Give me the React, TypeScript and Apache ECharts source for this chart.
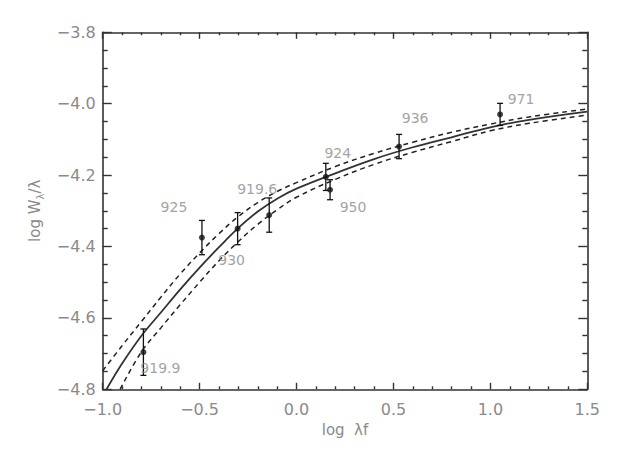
import React, { useEffect, useRef } from 'react';
import * as echarts from 'echarts';

// Measured lines (log λf, log Wλ/λ, 1σ error)
const lineNames = ['919.9', '925', '930', '919.6', '924', '950', '936', '971'];
const logLambdaF = [-0.79, -0.488, -0.304, -0.141, 0.151, 0.173, 0.529, 1.05];
const logW = [-4.696, -4.375, -4.35, -4.312, -4.205, -4.241, -4.12, -4.03];
const errW = [0.065, 0.048, 0.045, 0.048, 0.038, 0.028, 0.034, 0.031];

// Curve of growth (best fit)
const fitX = [-0.98, -0.9, -0.8, -0.7, -0.6, -0.5, -0.4, -0.3, -0.2, -0.1, 0.0, 0.2, 0.4, 0.6, 0.8, 1.0, 1.2, 1.5];
const fitY = [-4.8, -4.728, -4.65, -4.585, -4.52, -4.459, -4.402, -4.348, -4.302, -4.266, -4.238, -4.195, -4.155, -4.122, -4.094, -4.066, -4.045, -4.022];

// Upper bound curve
const upperX = [-1.0, -0.9, -0.8, -0.7, -0.6, -0.5, -0.4, -0.3, -0.2, -0.1, 0.0, 0.2, 0.4, 0.6, 0.8, 1.0, 1.2, 1.5];
const upperY = [-4.748, -4.678, -4.61, -4.542, -4.477, -4.418, -4.364, -4.316, -4.277, -4.246, -4.221, -4.176, -4.139, -4.108, -4.08, -4.057, -4.037, -4.015];

// Lower bound curve
const lowerX = [-0.91, -0.8, -0.7, -0.6, -0.5, -0.4, -0.3, -0.2, -0.1, 0.0, 0.2, 0.4, 0.6, 0.8, 1.0, 1.2, 1.5];
const lowerY = [-4.8, -4.695, -4.628, -4.563, -4.5, -4.44, -4.386, -4.338, -4.297, -4.262, -4.212, -4.17, -4.136, -4.106, -4.076, -4.055, -4.032];

// Label offsets in pixels (style, not data)
const labelOffsets: [number, number][] = [
  [17, 16], [-28, -31], [-6, 31], [-12, -26], [12, -24], [23, 17], [16, -29], [21, -15],
];

const FONT = 'DejaVu Sans';
const TEXT_GRAY = '#8a8a8a';
const AXIS_DARK = '#333333';

const fmt = (v: number) => {
  const s = Math.abs(v) < 1e-9 ? '0.0' : v.toFixed(1);
  return s.replace('-', '\u2212');
};

export default function App() {
  const ref = useRef<HTMLDivElement>(null);
  useEffect(() => {
    if (!ref.current) return;
    const chart = echarts.init(ref.current, undefined, { renderer: 'svg' });

    const axisLine = { show: true, onZero: false, lineStyle: { color: AXIS_DARK, width: 1.6 } };
    const xCommon = {
      type: 'value' as const,
      min: -1.0,
      max: 1.5,
      interval: 0.5,
      axisLine,
      axisTick: { show: true, inside: true, length: 6.5, lineStyle: { color: AXIS_DARK, width: 1.4 } },
      minorTick: { show: true, splitNumber: 5, length: 3, lineStyle: { color: AXIS_DARK, width: 1.4 } },
      splitLine: { show: false },
      minorSplitLine: { show: false },
    };
    const yCommon = {
      type: 'value' as const,
      min: -4.8,
      max: -3.8,
      interval: 0.2,
      axisLine,
      axisTick: { show: true, inside: true, length: 9, lineStyle: { color: AXIS_DARK, width: 1.4 } },
      minorTick: { show: true, splitNumber: 4, length: 5, lineStyle: { color: AXIS_DARK, width: 1.4 } },
      splitLine: { show: false },
      minorSplitLine: { show: false },
    };

    const errData = logLambdaF.map((x, i) => [x, logW[i] - errW[i], logW[i] + errW[i]]);
    const pointData = logLambdaF.map((x, i) => [x, logW[i]]);
    const labelData = logLambdaF.map((x, i) => ({
      value: [x, logW[i]],
      name: lineNames[i],
      label: { offset: labelOffsets[i] },
    }));

    chart.setOption({
      animation: false,
      backgroundColor: '#ffffff',
      grid: { left: 102.7, right: 30.7, top: 32.3, bottom: 65.7, containLabel: false },
      xAxis: [
        {
          ...xCommon,
          position: 'bottom',
          name: 'log  \u03bbf',
          nameLocation: 'middle',
          nameGap: 33,
          nameTextStyle: { fontFamily: FONT, fontSize: 15, color: TEXT_GRAY },
          axisLabel: { show: true, margin: 12, fontFamily: FONT, fontSize: 16, color: TEXT_GRAY, formatter: fmt },
        },
        { ...xCommon, position: 'top', axisLabel: { show: false } },
      ],
      yAxis: [
        {
          ...yCommon,
          position: 'left',
          name: '{a|log W}{s|\u03bb}{a|/\u03bb}',
          nameLocation: 'middle',
          nameGap: 55,
          nameRotate: 90,
          nameTextStyle: {
            fontFamily: FONT,
            color: TEXT_GRAY,
            rich: {
              a: { fontFamily: FONT, fontSize: 15, color: TEXT_GRAY, lineHeight: 22, verticalAlign: 'middle' },
              s: { fontFamily: FONT, fontSize: 10, color: TEXT_GRAY, lineHeight: 12, verticalAlign: 'bottom' },
            },
          },
          axisLabel: { show: true, margin: 7, fontFamily: FONT, fontSize: 16, color: TEXT_GRAY, formatter: fmt },
        },
        { ...yCommon, position: 'right', axisLabel: { show: false } },
      ],
      series: [
        {
          type: 'line',
          data: fitX.map((x, i) => [x, fitY[i]]),
          smooth: 0.4,
          symbol: 'none',
          lineStyle: { color: '#333333', width: 1.8 },
          z: 3,
        },
        {
          type: 'line',
          data: upperX.map((x, i) => [x, upperY[i]]),
          smooth: 0.4,
          symbol: 'none',
          lineStyle: { color: '#222222', width: 1.5, type: [5, 4] },
          z: 3,
        },
        {
          type: 'line',
          data: lowerX.map((x, i) => [x, lowerY[i]]),
          smooth: 0.4,
          symbol: 'none',
          lineStyle: { color: '#222222', width: 1.5, type: [5, 4] },
          z: 3,
        },
        {
          type: 'custom',
          data: errData,
          z: 4,
          renderItem: (params: any, api: any) => {
            const x = api.value(0);
            const lo = api.coord([x, api.value(1)]);
            const hi = api.coord([x, api.value(2)]);
            const w = 3;
            const style = { stroke: '#111111', lineWidth: 1.3 };
            return {
              type: 'group',
              children: [
                { type: 'line', shape: { x1: lo[0], y1: lo[1], x2: hi[0], y2: hi[1] }, style },
                { type: 'line', shape: { x1: lo[0] - w, y1: lo[1], x2: lo[0] + w, y2: lo[1] }, style },
                { type: 'line', shape: { x1: hi[0] - w, y1: hi[1], x2: hi[0] + w, y2: hi[1] }, style },
              ],
            };
          },
        },
        {
          type: 'scatter',
          data: pointData,
          symbol: 'circle',
          symbolSize: 6,
          itemStyle: { color: '#111111' },
          z: 5,
        },
        {
          type: 'scatter',
          data: labelData,
          symbol: 'circle',
          symbolSize: 1,
          itemStyle: { color: 'rgba(0,0,0,0)' },
          label: {
            show: true,
            position: 'inside',
            formatter: (p: any) => p.name,
            fontFamily: FONT,
            fontSize: 14,
            color: TEXT_GRAY,
          },
          z: 6,
        },
      ],
    });
    return () => chart.dispose();
  }, []);

  return (
    <div
      ref={ref}
      style={{ position: 'absolute', left: 0, top: 0, width: 618, height: 455, background: '#fff' }}
    />
  );
}
